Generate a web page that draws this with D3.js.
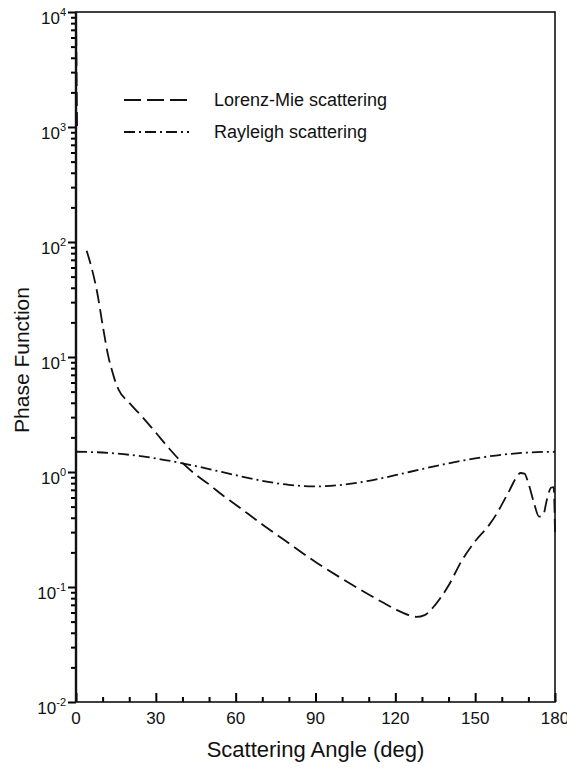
<!DOCTYPE html>
<html><head><meta charset="utf-8">
<script src="https://cdn.jsdelivr.net/npm/d3@7/dist/d3.min.js"></script>
<style>
body{margin:0;background:#fff}
text{font-family:"Liberation Sans",Arial,Helvetica,sans-serif;fill:#111}
</style>
</head><body>
<svg id="chart" width="567" height="769"></svg>
<script>
// Lorenz-Mie phase function (null = break in the drawn curve)
const mieAngles = [0, 0.4, null, 4, 6, 8, 10, 12, 14, 15, 16, 20, 25, 30, 35, 40, 45, 50, 55, 60, 70, 80, 90, 100, 110, 115, 120, 125, 128, 131, 135, 140, 145, 150, 155, 158, 160, 163, 165, 167, 168.5, 170, 172, 174, 175.5, 177, 178.5, 179.5, 180];
const mieValues = [10000, 1000, null, 84, 58, 36, 19, 10.5, 7.0, 5.9, 5.2, 4.0, 3.0, 2.2, 1.6, 1.2, 0.95, 0.78, 0.63, 0.52, 0.35, 0.24, 0.165, 0.118, 0.086, 0.074, 0.064, 0.057, 0.055, 0.057, 0.07, 0.103, 0.17, 0.25, 0.34, 0.43, 0.52, 0.70, 0.86, 0.98, 0.97, 0.80, 0.55, 0.41, 0.42, 0.58, 0.73, 0.74, 0.30];
// Rayleigh phase function
const rayAngles = [0, 10, 20, 30, 40, 50, 60, 70, 80, 90, 100, 110, 120, 130, 140, 150, 160, 170, 180];
const rayValues = [1.5, 1.477, 1.412, 1.313, 1.190, 1.060, 0.938, 0.838, 0.773, 0.75, 0.773, 0.838, 0.938, 1.060, 1.190, 1.313, 1.412, 1.477, 1.5];
// axes
const xMajorTicks = [0, 30, 60, 90, 120, 150, 180];
const xMinorTicks = [10, 20, 40, 50, 70, 80, 100, 110, 130, 140, 160, 170];
const yExponents = [-2, -1, 0, 1, 2, 3, 4];
const legendLabels = ["Lorenz-Mie scattering", "Rayleigh scattering"];
const xTitle = "Scattering Angle (deg)";
const yTitle = "Phase Function";

const m = {left: 76, right: 555, top: 12, bottom: 702};
const svg = d3.select("#chart");
const x = d3.scaleLinear().domain([0, 180]).range([m.left, m.right]);
const y = d3.scaleLog().domain([1e-2, 1e4]).range([m.bottom, m.top]);

// y minor tick values
const yMinor = [];
yExponents.slice(0, -1).forEach(e => { for (let k = 2; k <= 9; k++) yMinor.push(k * Math.pow(10, e)); });
const yMajor = yExponents.map(e => Math.pow(10, e));

const ink = "#111";
const tickInk = "#000";
// Left axis ticks (outward), built with d3.axisLeft
const gy = svg.append("g").attr("transform", `translate(${m.left},0)`);
gy.append("g").call(d3.axisLeft(y).tickValues(yMajor).tickSize(8).tickFormat(() => ""));
gy.append("g").call(d3.axisLeft(y).tickValues(yMinor).tickSize(5).tickFormat(() => ""));
gy.selectAll(".domain").remove();
gy.selectAll(".tick line").attr("stroke", tickInk).attr("stroke-width", 2).style("stroke", tickInk);

// y labels 10^n
yExponents.forEach(e => {
  const t = svg.append("text").attr("x", m.left - 10).attr("y", y(Math.pow(10, e)) + 12)
    .attr("text-anchor", "end").attr("font-size", 17);
  t.append("tspan").text("10");
  t.append("tspan").attr("font-size", 11).attr("dy", -8).text(String(e));
});

// Bottom axis ticks (inward), built with d3.axisBottom
const gx = svg.append("g").attr("transform", `translate(0,${m.bottom})`);
gx.append("g").call(d3.axisBottom(x).tickValues(xMajorTicks).tickSize(-9).tickFormat(() => ""));
gx.append("g").call(d3.axisBottom(x).tickValues(xMinorTicks).tickSize(-5).tickFormat(() => ""));
gx.selectAll(".domain").remove();
gx.selectAll(".tick line").attr("stroke", tickInk).attr("stroke-width", 2).style("stroke", tickInk);
svg.append("g").selectAll("text").data(xMajorTicks).join("text")
  .attr("x", d => x(d)).attr("y", m.bottom + 22).attr("text-anchor", "middle")
  .attr("font-size", 17).text(d3.format("d"));

// Frame
svg.append("rect").attr("x", m.left).attr("y", m.top).attr("width", m.right - m.left).attr("height", m.bottom - m.top)
  .attr("fill", "none").attr("stroke", ink).attr("stroke-width", 1.6);
svg.append("line").attr("x1", m.left).attr("x2", m.left).attr("y1", m.top).attr("y2", m.bottom)
  .attr("stroke", ink).attr("stroke-width", 2.4);

// Curves
const mieData = mieAngles.map((a, i) => ({a, v: mieValues[i]}));
const rayData = rayAngles.map((a, i) => ({a, v: rayValues[i]}));
const line = d3.line().defined(d => d.a !== null && d.v !== null)
  .x(d => x(d.a)).y(d => y(d.v)).curve(d3.curveMonotoneX);

svg.append("path").datum(rayData).attr("d", line).attr("fill", "none")
  .attr("stroke", ink).attr("stroke-width", 1.8).attr("stroke-dasharray", "11,4,2,4");
svg.append("path").datum(mieData).attr("d", line).attr("fill", "none")
  .attr("stroke", ink).attr("stroke-width", 1.8).attr("stroke-dasharray", "14,6");

// Legend
const legendDash = ["17,6", "11,4,2,4"];
legendLabels.forEach((lab, i) => {
  const yy = 100 + i * 32;
  svg.append("line").attr("x1", 124).attr("x2", 189).attr("y1", yy).attr("y2", yy)
    .attr("stroke", ink).attr("stroke-width", 1.8).attr("stroke-dasharray", legendDash[i]);
  svg.append("text").attr("x", 214).attr("y", yy + 6).attr("font-size", 18).text(lab);
});

// Titles
svg.append("text").attr("x", (m.left + m.right) / 2).attr("y", 757).attr("text-anchor", "middle")
  .attr("font-size", 22).text(xTitle);
svg.append("text").attr("transform", `translate(29,${(m.top + m.bottom) / 2 + 3}) rotate(-90)`)
  .attr("text-anchor", "middle").attr("font-size", 21).text(yTitle);
</script>
</body></html>
